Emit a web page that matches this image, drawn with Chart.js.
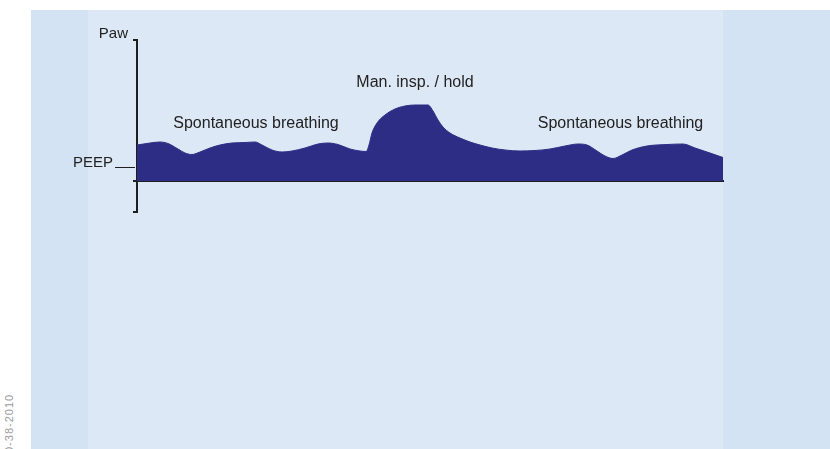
<!DOCTYPE html>
<html>
<head>
<meta charset="utf-8">
<script src="https://cdn.jsdelivr.net/npm/chart.js@4.4.0/dist/chart.umd.min.js"></script>
<style>
  html, body { margin: 0; padding: 0; background: #fff; }
  #wrap { position: relative; width: 830px; height: 449px; overflow: hidden; }
  .panel { position: absolute; top: 10px; bottom: 0; }
  #panel-outer { left: 31px; right: 0; background: #d4e3f3; }
  #panel-main { left: 88px; width: 635px; background: #dce8f5; }
  #code {
    position: absolute; left: 9px; top: 453px;
    transform-origin: 0 0; transform: rotate(-90deg) translateY(-50%);
    font: 11px "Liberation Sans", Arial, sans-serif; letter-spacing: 1px;
    color: #9b9b9b; white-space: nowrap;
  }
  canvas { position: absolute; left: 0; top: 0; }
</style>
</head>
<body>
<div id="wrap">
  <div class="panel" id="panel-outer"></div>
  <div class="panel" id="panel-main"></div>
  <div id="code">0-38-2010</div>
  <canvas id="paw-chart" width="830" height="449"></canvas>
</div>
<script>
// airway pressure trace: time (arbitrary units) and pressure above zero
const timeAxis = [0, 13, 23, 31, 41, 48, 55, 63, 73, 83, 95, 108, 118, 125, 135, 145, 155, 168, 181, 191, 201, 213, 223, 229,
                  232, 235, 240, 248, 258, 268, 278, 291, 296, 301, 306, 313, 323, 333, 343, 355, 368, 383, 398, 413, 428,
                  441, 450, 460, 468, 476, 485, 495, 510, 530, 546, 558, 573, 586];
const pressure = [36, 38, 39, 37.5, 32, 28, 26.5, 29, 33, 36, 38, 38.5, 39, 36, 31, 29, 30, 33, 37, 38, 36.5, 32, 30, 29.5,
                  36, 48, 58, 66, 72, 75, 76, 76, 70, 61, 54, 48, 43, 39, 36, 33, 31, 30, 30.5, 32, 35,
                  37, 36, 30, 25, 22.5, 26, 31, 35, 36.5, 37, 33, 28, 23.5];
const peepLevel = 14;
const axisMin = -31;
const axisMax = 141;

const phaseLabels = ['Spontaneous breathing', 'Man. insp. / hold', 'Spontaneous breathing'];
const phaseAt = [119, 278, 483.5];
const phaseLevel = [52.7, 93.7, 52.7];

const INK = '#1e1e1e';
const WAVE = '#2e2d86';
const FONT = '"Liberation Sans", Arial, sans-serif';

const labelsPlugin = {
  id: 'pawLabels',
  afterDatasetsDraw(chart) {
    const { ctx, chartArea, scales: { x, y } } = chart;
    ctx.save();
    ctx.fillStyle = '#222';
    ctx.textBaseline = 'alphabetic';

    ctx.font = '16px ' + FONT;
    ctx.textAlign = 'center';
    phaseLabels.forEach((t, i) => {
      ctx.fillText(t, x.getPixelForValue(phaseAt[i]), y.getPixelForValue(phaseLevel[i]));
    });

    // axis name and PEEP marker on the left
    ctx.font = '15px ' + FONT;
    ctx.textAlign = 'right';
    ctx.fillText('Paw', chartArea.left - 9, chartArea.top - 2.5);
    const py = Math.round(y.getPixelForValue(peepLevel)) + 0.5;
    ctx.fillText('PEEP', chartArea.left - 24, py - 1);
    ctx.strokeStyle = INK;
    ctx.lineWidth = 1;
    ctx.beginPath();
    ctx.moveTo(chartArea.left - 22, py);
    ctx.lineTo(chartArea.left - 2, py);
    ctx.stroke();
    ctx.restore();
  }
};

new Chart(document.getElementById('paw-chart'), {
  type: 'line',
  data: {
    datasets: [{
      data: timeAxis.map((t, i) => ({ x: t, y: pressure[i] })),
      borderColor: WAVE,
      backgroundColor: WAVE,
      borderWidth: 1,
      fill: 'origin',
      pointRadius: 0,
      cubicInterpolationMode: 'monotone'
    }]
  },
  options: {
    responsive: false,
    animation: false,
    devicePixelRatio: 1,
    layout: { padding: { left: 137, top: 40, right: 107, bottom: 237 } },
    plugins: { legend: { display: false }, tooltip: { enabled: false } },
    scales: {
      x: {
        type: 'linear', min: 0, max: 586,
        position: { y: 0 }, z: 1,
        grid: { display: false },
        ticks: { display: false },
        border: { color: INK, width: 2 }
      },
      y: {
        min: axisMin, max: axisMax,
        afterBuildTicks: s => { s.ticks = [axisMin, 0, axisMax].map(v => ({ value: v })); },
        afterFit: s => { s.width = 0; },
        ticks: { display: false },
        grid: { drawOnChartArea: false, drawTicks: true, tickLength: 4, tickColor: INK, lineWidth: 2 },
        border: { color: INK, width: 2 }
      }
    }
  },
  plugins: [labelsPlugin]
});
</script>
</body>
</html>
